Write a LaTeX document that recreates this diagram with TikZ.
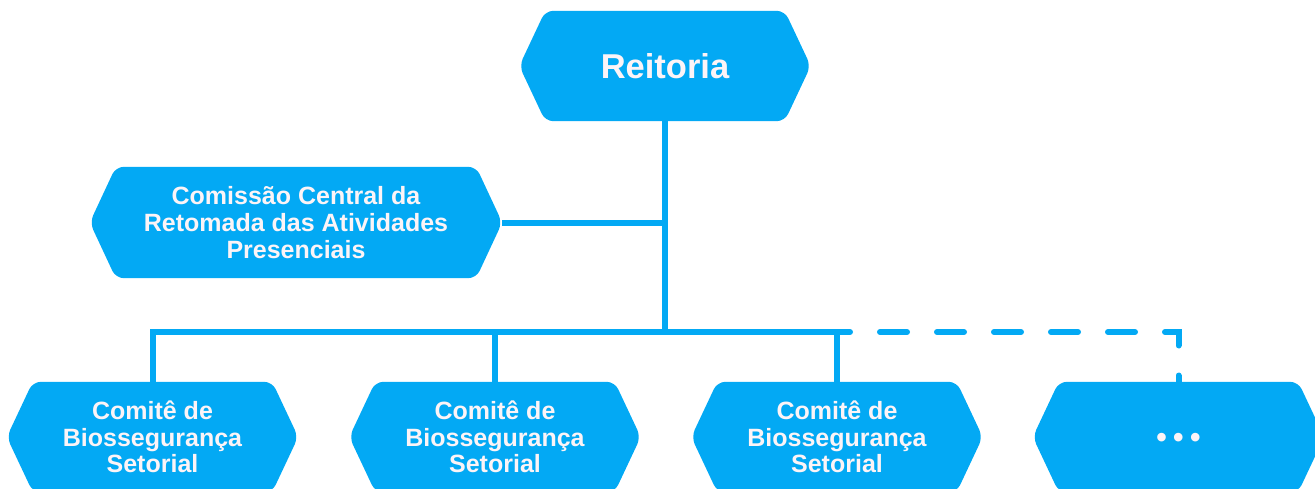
\documentclass[tikz,border=0pt]{standalone}
\usepackage{fontspec}
\setmainfont{Liberation Sans}
\usetikzlibrary{backgrounds}
\definecolor{hexblue}{RGB}{3,169,244}
\definecolor{txtwhite}{RGB}{252,244,247}
\tikzset{
  hexbase/.style={inner sep=0pt, minimum width=291pt, minimum height=110pt,
    text=txtwhite, font=\bfseries\fontsize{25}{26.7}\selectfont},
  hexnode/.style={hexbase, align=center},
  conn/.style={draw=hexblue, line width=6pt},
  dashconn/.style={conn, line cap=round, dash pattern=on 27pt off 30pt, dash phase=14pt},
  hexfill/.style={fill=hexblue, rounded corners=8pt},
}
\newcommand\hexshape[1]{%
  \path[hexfill] (#1.north) -- ([xshift=-26pt]#1.north east) -- (#1.east)
    -- ([xshift=-26pt]#1.south east) -- ([xshift=26pt]#1.south west) -- (#1.west)
    -- ([xshift=26pt]#1.north west) -- cycle;}
\begin{document}
\begin{tikzpicture}[x=1pt,y=-1pt]
\useasboundingbox (0,0) rectangle (1315,488);
\node[hexnode, font=\bfseries\fontsize{34.5}{40}\selectfont] (reit) at (665,66) {Reitoria};
\node[hexnode, minimum width=412pt, minimum height=111pt] (com) at (296,222.5)
  {Comissão Central da\\Retomada das Atividades\\Presenciais};
\node[hexnode] (c1) at (152.5,437) {Comitê de\\Biossegurança\\Setorial};
\node[hexnode] (c2) at (495,437) {Comitê de\\Biossegurança\\Setorial};
\node[hexnode] (c3) at (837,437) {Comitê de\\Biossegurança\\Setorial};
\node[hexbase, font=\bfseries\fontsize{30}{32}\selectfont, text height=20pt, text depth=0pt]
  (c4) at (1178.5,437) {•\hspace{6.5pt}•\hspace{6.5pt}•};
\coordinate (j) at (665,332);
\begin{pgfonlayer}{background}
  \draw[conn] (reit.south) -- (j);
  \draw[conn] (com.east) -- (com.east -| j);
  \draw[conn, line join=miter] (c1.north) -- (c1.north |- j) -- (c3.north |- j);
  \draw[conn] (c2.north) -- (c2.north |- j);
  \draw[conn] (c3.north) -- (c3.north |- j);
  \draw[dashconn] (c3.north |- j) -- (c4.north |- j) -- (c4.north);
  \hexshape{reit}
  \hexshape{com}
  \hexshape{c1}
  \hexshape{c2}
  \hexshape{c3}
  \hexshape{c4}
\end{pgfonlayer}
\end{tikzpicture}
\end{document}
